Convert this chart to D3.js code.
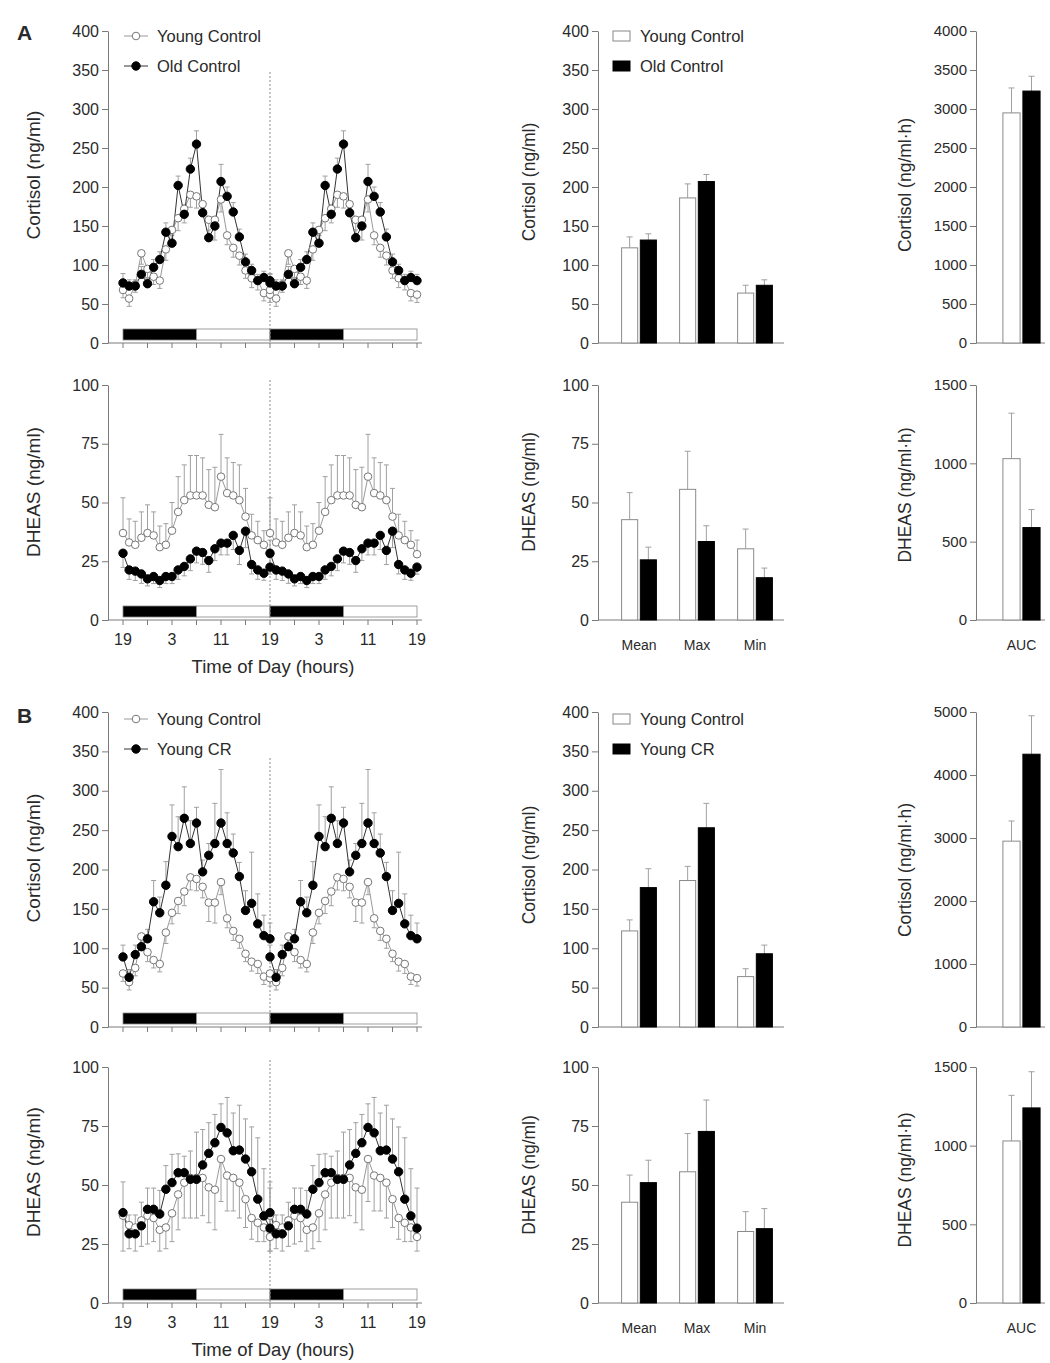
<!DOCTYPE html>
<html><head><meta charset="utf-8">
<script src="https://cdn.jsdelivr.net/npm/d3@7"></script>
<style>
body{margin:0;background:#fff;}
svg{display:block;}
text{font-family:"Liberation Sans",Arial,Helvetica,sans-serif;fill:#2a2a2a;}
</style>
</head><body>
<svg id="c" width="1050" height="1363"></svg>
<script>
// ---------------- DATA ----------------
// hourly samples starting 19:00 (index 0) through 19:00 next day (index 24); double-plotted
const timeTickValues = [0,4,8,12,16,20,24,28,32,36,40,44,48];
const timeLabelValues = [0,8,16,24,32,40,48];
const timeTickLabels = ["19","3","11","19","3","11","19"];
const lightDark = [{from:0,to:12,dark:true},{from:12,to:24,dark:false},{from:24,to:36,dark:true},{from:36,to:48,dark:false}];

const youngCortisol   = [68,57,75,115,95,85,80,120,145,160,172,190,188,178,158,158,184,138,122,112,93,83,80,64,62];
const youngCortisolSE = [10,10,10,14,12,10,10,14,14,16,18,16,15,14,24,26,16,12,12,12,10,12,12,10,10];
const oldCortisol     = [77,73,73,88,76,97,107,142,128,202,165,223,255,167,135,150,207,188,168,136,104,93,80,84,80];
const oldCortisolSE   = [12,8,8,10,8,10,10,12,10,12,12,14,17,12,10,10,22,12,12,10,10,8,8,8,8];
const crCortisol      = [89,63,92,102,112,159,145,180,242,229,265,233,259,197,218,233,259,233,221,191,148,157,131,116,112];
const crCortisolSE    = [15,10,12,12,12,27,20,30,40,38,40,29,20,15,15,51,68,39,24,18,25,65,38,26,20];

const youngDheas   = [37,33,32,35,37,36,31,32,38,46,51,53,53,53,49,48,61,54,53,51,44,36,34,32,28];
const youngDheasSE = [15,10,10,11,12,10,9,9,12,15,15,17,17,16,15,17,18,15,14,15,12,9,8,6,6];
const oldDheas     = [28.4,21.3,20.8,19.6,17.5,18.5,16.8,18.5,18.5,21.3,22.8,26,29.3,28.7,25.3,30.3,32.7,32.7,36,29.6,37.8,23.6,21.3,19.9,22.5];
const oldDheasSE   = [6,4,4,4,3,3,3,3,3,4,4,5,5,5,5,5,5,5,6,6,7,4,4,3,3];
const crDheas      = [38.3,29.3,29.3,32.7,39.7,39.7,37.7,48.2,51,55.2,55.2,52.4,52.4,58.5,63.4,67.9,74.4,72.1,64.5,64.8,61,55.6,44,36.9,31.7];
const crDheasSE    = [13,8,8,10,9,9,10,10,12,8,7,12,20,15,13,12,10,15,16,19,17,19,26,20,17];

const barCategories = ["Mean","Max","Min"];
const cortYoungBars = [122,186,64],  cortYoungBarsSE = [14,18,10];
const cortOldBars   = [132,207,74],  cortOldBarsSE   = [8,9,7];
const cortCRBars    = [177,253,93],  cortCRBarsSE    = [24,31,11];
const dheasYoungBars = [42.7,55.6,30.3], dheasYoungBarsSE = [11.5,16.2,8.4];
const dheasOldBars   = [25.6,33.4,18],   dheasOldBarsSE   = [5.4,6.7,4.1];
const dheasCRBars    = [51,72.7,31.5],   dheasCRBarsSE    = [9.5,13.3,8.5];

const aucCategories = ["AUC"];
const cortAUCYoung = [2950], cortAUCYoungSE = [320];
const cortAUCOld   = [3230], cortAUCOldSE   = [190];
const cortAUCCR    = [4330], cortAUCCRSE    = [610];
const dheasAUCYoung = [1030], dheasAUCYoungSE = [290];
const dheasAUCOld   = [590],  dheasAUCOldSE   = [115];
const dheasAUCCR    = [1240], dheasAUCCRSE    = [230];

// ---------------- DRAWING ----------------
const svg = d3.select("#c");
const AX = "#7a7a7a", ERR = "#a0a0a0";
const tx = d3.scaleLinear().domain([0,48]).range([123,417]);
const fmt = d3.format("d");

function styleAxis(sel, fs){
  sel.select(".domain").attr("stroke",AX);
  sel.selectAll(".tick line").attr("stroke",AX);
  sel.selectAll(".tick text").style("font-size",fs+"px").style("font-family",'"Liberation Sans",Arial,sans-serif').attr("fill","#2a2a2a");
}

function yTitle(x, y, txt, fs){
  svg.append("text").attr("transform",`translate(${x},${y}) rotate(-90)`).attr("text-anchor","middle")
    .style("font-size",(fs||17)+"px").text(txt);
}

function timePanel(o){
  const y = d3.scaleLinear().domain([0,o.max]).range([o.bottom,o.top]);
  const g = svg.append("g");
  const ya = g.append("g").attr("transform","translate(108,0)")
    .call(d3.axisLeft(y).tickValues(d3.range(0,o.max+0.001,o.step)).tickFormat(fmt).tickSize(6).tickSizeOuter(0).tickPadding(3));
  styleAxis(ya,16);
  g.append("line").attr("x1",108).attr("x2",422).attr("y1",o.bottom).attr("y2",o.bottom).attr("stroke",AX);
  g.selectAll(".xt").data(timeTickValues).join("line").attr("x1",d=>tx(d)).attr("x2",d=>tx(d))
    .attr("y1",o.bottom).attr("y2",o.bottom+5).attr("stroke",AX);
  if(o.labels){
    g.selectAll(".xl").data(timeLabelValues).join("text").attr("x",d=>tx(d)).attr("y",o.bottom+25)
      .attr("text-anchor","middle").style("font-size","16px").text((d,i)=>timeTickLabels[i]);
    g.append("text").attr("x",273).attr("y",o.bottom+53).attr("text-anchor","middle").style("font-size","18.5px").text("Time of Day (hours)");
  }
  g.selectAll(".ld").data(lightDark).join("rect").attr("x",d=>tx(d.from)).attr("width",d=>tx(d.to)-tx(d.from))
    .attr("y",o.bottom-14).attr("height",11).attr("fill",d=>d.dark?"#000":"#fff").attr("stroke","#888").attr("stroke-width",0.8);
  g.append("line").attr("x1",tx(24)).attr("x2",tx(24)).attr("y1",o.lineTop).attr("y2",o.bottom)
    .attr("stroke","#8a8a8a").attr("stroke-dasharray","2,2");
  const offsets=[0,24];
  o.series.forEach(s=>{
    offsets.forEach(off=>{
      s.values.forEach((v,i)=>{
        const x=tx(i+off), y0=y(v), y1=y(v+s.dir*s.se[i]);
        g.append("line").attr("x1",x).attr("x2",x).attr("y1",y0).attr("y2",y1).attr("stroke",ERR).attr("stroke-width",1);
        g.append("line").attr("x1",x-2.5).attr("x2",x+2.5).attr("y1",y1).attr("y2",y1).attr("stroke",ERR).attr("stroke-width",1);
      });
    });
  });
  const line = d3.line().x(d=>d[0]).y(d=>d[1]);
  o.series.forEach(s=>{
    offsets.forEach(off=>{
      g.append("path").attr("d",line(s.values.map((v,i)=>[tx(i+off),y(v)])))
        .attr("fill","none").attr("stroke",s.filled?"#333":"#9a9a9a").attr("stroke-width",1);
    });
  });
  o.series.slice().sort((a,b)=>(a.filled?1:0)-(b.filled?1:0)).forEach(s=>{
    offsets.forEach(off=>{
      g.selectAll(null).data(s.values).join("circle").attr("cx",(d,i)=>tx(i+off)).attr("cy",d=>y(d))
        .attr("r",s.filled?4.2:3.8).attr("fill",s.filled?"#000":"#fff").attr("stroke",s.filled?"#000":"#777").attr("stroke-width",1);
    });
  });
  if(o.legend){
    o.legend.forEach((l,i)=>{
      const ly=o.legendY+i*30;
      g.append("line").attr("x1",124).attr("x2",148).attr("y1",ly).attr("y2",ly).attr("stroke",l.filled?"#333":"#999");
      g.append("circle").attr("cx",136).attr("cy",ly).attr("r",l.filled?4.2:3.8).attr("fill",l.filled?"#000":"#fff").attr("stroke",l.filled?"#000":"#777");
      g.append("text").attr("x",157).attr("y",ly+6).style("font-size","16.5px").text(l.name);
    });
  }
  yTitle(40,o.titleY,o.title,19);
}

function barPanel(o){
  const y = d3.scaleLinear().domain([0,o.max]).range([o.bottom,o.top]);
  const g = svg.append("g");
  const ya = g.append("g").attr("transform",`translate(${o.axisX},0)`)
    .call(d3.axisLeft(y).tickValues(d3.range(0,o.max+0.001,o.step)).tickFormat(fmt).tickSize(6).tickSizeOuter(0).tickPadding(3));
  styleAxis(ya,o.fs||16);
  g.append("line").attr("x1",o.axisX).attr("x2",o.axisEnd).attr("y1",o.bottom).attr("y2",o.bottom).attr("stroke",AX);
  const x = d3.scaleBand().domain(o.categories).range(o.range).paddingInner(o.pi).paddingOuter(o.po);
  const xs = d3.scaleBand().domain(d3.range(o.series.length)).range([0,x.bandwidth()]).paddingInner(0.14);
  o.series.forEach((s,si)=>{
    o.categories.forEach((c,ci)=>{
      const bx = x(c)+xs(si), bw = xs.bandwidth(), v=s.values[ci], top=y(v+s.se[ci]);
      const cx = bx+bw/2;
      g.append("line").attr("x1",cx).attr("x2",cx).attr("y1",y(v)).attr("y2",top).attr("stroke",ERR);
      g.append("line").attr("x1",cx-3).attr("x2",cx+3).attr("y1",top).attr("y2",top).attr("stroke",ERR);
      g.append("rect").attr("x",bx).attr("y",y(v)).attr("width",bw).attr("height",o.bottom-y(v))
        .attr("fill",s.filled?"#000":"#fff").attr("stroke",s.filled?"#000":"#8a8a8a").attr("stroke-width",1);
    });
  });
  if(o.catLabels){
    g.selectAll(".cl").data(o.categories).join("text").attr("x",d=>x(d)+x.bandwidth()/2).attr("y",o.bottom+30)
      .attr("text-anchor","middle").style("font-size","14px").attr("fill","#333").text(d=>d);
  }
  if(o.legend){
    o.legend.forEach((l,i)=>{
      const ly=o.legendY+i*30;
      g.append("rect").attr("x",613).attr("y",ly-5).attr("width",17).attr("height",10)
        .attr("fill",l.filled?"#000":"#fff").attr("stroke",l.filled?"#000":"#888");
      g.append("text").attr("x",640).attr("y",ly+6).style("font-size","16.5px").text(l.name);
    });
  }
  yTitle(o.titleX,o.titleY,o.title,17.5);
}

const midRange=[610,784], aucRange=[976,1067];

// ---------- Panel A ----------
svg.append("text").attr("x",17).attr("y",40).style("font-size","21px").style("font-weight","bold").attr("fill","#111").text("A");
timePanel({top:31,bottom:343,max:400,step:50,lineTop:72,title:"Cortisol (ng/ml)",titleY:175,
  series:[{values:youngCortisol,se:youngCortisolSE,filled:false,dir:-1},{values:oldCortisol,se:oldCortisolSE,filled:true,dir:1}],
  legend:[{name:"Young Control",filled:false},{name:"Old Control",filled:true}],legendY:36});
timePanel({top:385,bottom:620,max:100,step:25,lineTop:380,title:"DHEAS (ng/ml)",titleY:492,labels:true,
  series:[{values:youngDheas,se:youngDheasSE,filled:false,dir:1},{values:oldDheas,se:oldDheasSE,filled:true,dir:-1}]});

barPanel({top:31,bottom:343,max:400,step:50,axisX:598,axisEnd:784,range:midRange,pi:0.4,po:0.2,categories:barCategories,
  series:[{values:cortYoungBars,se:cortYoungBarsSE,filled:false},{values:cortOldBars,se:cortOldBarsSE,filled:true}],
  legend:[{name:"Young Control",filled:false},{name:"Old Control",filled:true}],legendY:36,
  title:"Cortisol (ng/ml)",titleX:535,titleY:182});
barPanel({top:385,bottom:620,max:100,step:25,axisX:598,axisEnd:784,range:midRange,pi:0.4,po:0.2,categories:barCategories,catLabels:true,
  series:[{values:dheasYoungBars,se:dheasYoungBarsSE,filled:false},{values:dheasOldBars,se:dheasOldBarsSE,filled:true}],
  title:"DHEAS (ng/ml)",titleX:535,titleY:492});

barPanel({top:31,bottom:343,max:4000,step:500,axisX:976,axisEnd:1045,range:aucRange,pi:0.42,po:0.42,categories:aucCategories,fs:15,
  series:[{values:cortAUCYoung,se:cortAUCYoungSE,filled:false},{values:cortAUCOld,se:cortAUCOldSE,filled:true}],
  title:"Cortisol (ng/ml·h)",titleX:911,titleY:185});
barPanel({top:385,bottom:620,max:1500,step:500,axisX:976,axisEnd:1045,range:aucRange,pi:0.42,po:0.42,categories:aucCategories,catLabels:true,fs:15,
  series:[{values:dheasAUCYoung,se:dheasAUCYoungSE,filled:false},{values:dheasAUCOld,se:dheasAUCOldSE,filled:true}],
  title:"DHEAS (ng/ml·h)",titleX:911,titleY:495});

// ---------- Panel B ----------
svg.append("text").attr("x",17).attr("y",723).style("font-size","21px").style("font-weight","bold").attr("fill","#111").text("B");
timePanel({top:712,bottom:1027,max:400,step:50,lineTop:758,title:"Cortisol (ng/ml)",titleY:858,
  series:[{values:youngCortisol,se:youngCortisolSE,filled:false,dir:-1},{values:crCortisol,se:crCortisolSE,filled:true,dir:1}],
  legend:[{name:"Young Control",filled:false},{name:"Young CR",filled:true}],legendY:719});
timePanel({top:1067,bottom:1303,max:100,step:25,lineTop:1060,title:"DHEAS (ng/ml)",titleY:1172,labels:true,
  series:[{values:youngDheas,se:youngDheasSE,filled:false,dir:-1},{values:crDheas,se:crDheasSE,filled:true,dir:1}]});

barPanel({top:712,bottom:1027,max:400,step:50,axisX:598,axisEnd:784,range:midRange,pi:0.4,po:0.2,categories:barCategories,
  series:[{values:cortYoungBars,se:cortYoungBarsSE,filled:false},{values:cortCRBars,se:cortCRBarsSE,filled:true}],
  legend:[{name:"Young Control",filled:false},{name:"Young CR",filled:true}],legendY:719,
  title:"Cortisol (ng/ml)",titleX:535,titleY:865});
barPanel({top:1067,bottom:1303,max:100,step:25,axisX:598,axisEnd:784,range:midRange,pi:0.4,po:0.2,categories:barCategories,catLabels:true,
  series:[{values:dheasYoungBars,se:dheasYoungBarsSE,filled:false},{values:dheasCRBars,se:dheasCRBarsSE,filled:true}],
  title:"DHEAS (ng/ml)",titleX:535,titleY:1175});

barPanel({top:712,bottom:1027,max:5000,step:1000,axisX:976,axisEnd:1045,range:aucRange,pi:0.42,po:0.42,categories:aucCategories,fs:15,
  series:[{values:cortAUCYoung,se:cortAUCYoungSE,filled:false},{values:cortAUCCR,se:cortAUCCRSE,filled:true}],
  title:"Cortisol (ng/ml·h)",titleX:911,titleY:870});
barPanel({top:1067,bottom:1303,max:1500,step:500,axisX:976,axisEnd:1045,range:aucRange,pi:0.42,po:0.42,categories:aucCategories,catLabels:true,fs:15,
  series:[{values:dheasAUCYoung,se:dheasAUCYoungSE,filled:false},{values:dheasAUCCR,se:dheasAUCCRSE,filled:true}],
  title:"DHEAS (ng/ml·h)",titleX:911,titleY:1180});
</script>
</body></html>
